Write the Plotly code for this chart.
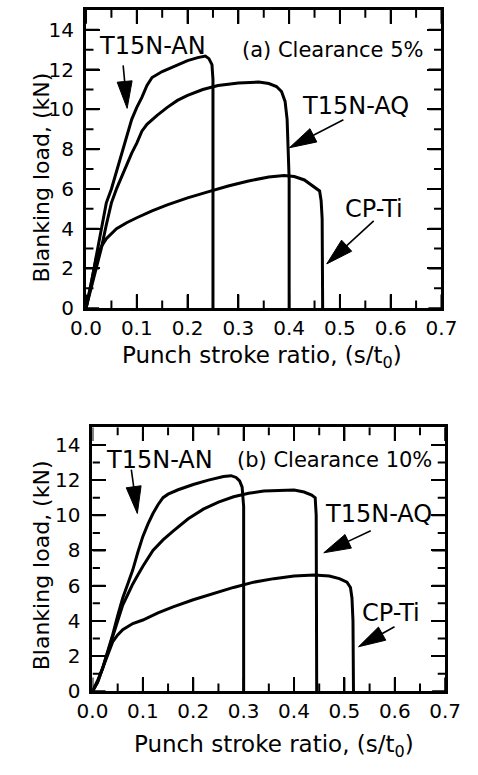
import math
import plotly.graph_objects as go

# ---------------- data ----------------
# Panel (a): Clearance 5%
a_an_x = [0, 0.01, 0.02, 0.03, 0.04, 0.05, 0.06, 0.07, 0.08, 0.09, 0.10, 0.11, 0.12, 0.13, 0.15, 0.18, 0.20, 0.22, 0.235, 0.242, 0.248, 0.250, 0.250]
a_an_y = [0, 1.2, 2.6, 4.0, 5.3, 6.0, 6.9, 7.8, 8.6, 9.5, 10.1, 10.6, 11.2, 11.6, 11.9, 12.25, 12.45, 12.6, 12.68, 12.55, 12.25, 11.5, 0]

a_aq_x = [0, 0.01, 0.02, 0.03, 0.04, 0.05, 0.06, 0.07, 0.08, 0.09, 0.10, 0.11, 0.12, 0.14, 0.16, 0.18, 0.20, 0.23, 0.26, 0.30, 0.34, 0.36, 0.375, 0.385, 0.392, 0.396, 0.398, 0.400, 0.400]
a_aq_y = [0, 1.0, 2.0, 3.0, 4.2, 5.3, 6.0, 6.6, 7.2, 7.8, 8.3, 8.9, 9.25, 9.7, 10.1, 10.45, 10.7, 11.0, 11.2, 11.32, 11.37, 11.3, 11.15, 10.9, 10.4, 9.5, 8.0, 6.5, 0]

a_cp_x = [0, 0.01, 0.02, 0.03, 0.04, 0.06, 0.08, 0.10, 0.13, 0.16, 0.20, 0.24, 0.28, 0.32, 0.36, 0.39, 0.41, 0.43, 0.45, 0.46, 0.463, 0.465, 0.466]
a_cp_y = [0, 1.3, 2.5, 3.1, 3.5, 4.0, 4.3, 4.55, 4.9, 5.2, 5.55, 5.85, 6.15, 6.4, 6.6, 6.68, 6.62, 6.45, 6.1, 5.9, 5.4, 4.5, 0]

# Panel (b): Clearance 10%
b_an_x = [0, 0.01, 0.02, 0.03, 0.04, 0.05, 0.06, 0.07, 0.08, 0.09, 0.10, 0.11, 0.12, 0.13, 0.14, 0.15, 0.17, 0.20, 0.23, 0.26, 0.275, 0.285, 0.292, 0.297, 0.300, 0.300]
b_an_y = [0, 0.5, 1.3, 2.2, 3.2, 4.3, 5.3, 6.1, 6.9, 7.9, 8.8, 9.5, 10.1, 10.6, 11.0, 11.2, 11.45, 11.75, 12.0, 12.2, 12.25, 12.15, 11.95, 11.6, 10.5, 0]

b_aq_x = [0, 0.01, 0.02, 0.03, 0.04, 0.05, 0.06, 0.07, 0.08, 0.09, 0.10, 0.12, 0.14, 0.16, 0.19, 0.22, 0.25, 0.28, 0.31, 0.34, 0.37, 0.40, 0.42, 0.435, 0.442, 0.444, 0.445]
b_aq_y = [0, 0.5, 1.3, 2.2, 3.2, 4.1, 4.9, 5.5, 6.1, 6.6, 7.1, 8.0, 8.6, 9.1, 9.8, 10.35, 10.75, 11.05, 11.25, 11.38, 11.42, 11.43, 11.32, 11.15, 11.0, 10.0, 0]

b_cp_x = [0, 0.01, 0.02, 0.03, 0.04, 0.05, 0.06, 0.08, 0.10, 0.13, 0.16, 0.20, 0.24, 0.28, 0.32, 0.36, 0.40, 0.44, 0.47, 0.49, 0.505, 0.512, 0.515, 0.517, 0.518]
b_cp_y = [0, 0.6, 1.3, 2.1, 2.8, 3.2, 3.5, 3.85, 4.05, 4.45, 4.8, 5.2, 5.55, 5.9, 6.2, 6.4, 6.55, 6.6, 6.55, 6.4, 6.2, 5.9, 5.3, 4.0, 0]

x_ticks = [0.0, 0.1, 0.2, 0.3, 0.4, 0.5, 0.6, 0.7]
x_minor_ticks = [0.05, 0.15, 0.25, 0.35, 0.45, 0.55, 0.65]
y_ticks = [0, 2, 4, 6, 8, 10, 12, 14]
y_minor_ticks = [1, 3, 5, 7, 9, 11, 13]
X_RANGE = [0, 0.7]
Y_RANGE = [0, 15]

x_title = "Punch stroke ratio, (s/t<sub>0</sub>)"
y_title = "Blanking load, (kN)"

FONT = "DejaVu Sans"
W, H = 478, 775
DOM_A = ([0.157, 0.954], [0.596, 0.987])
DOM_B = ([0.1715, 0.9623], [0.094, 0.44])

fig = go.Figure()

series = [
    (a_an_x, a_an_y, "x", "y"), (a_aq_x, a_aq_y, "x", "y"), (a_cp_x, a_cp_y, "x", "y"),
    (b_an_x, b_an_y, "x2", "y2"), (b_aq_x, b_aq_y, "x2", "y2"), (b_cp_x, b_cp_y, "x2", "y2"),
]
for xs, ys, xa, ya in series:
    fig.add_trace(go.Scatter(x=xs, y=ys, xaxis=xa, yaxis=ya, mode="lines",
                             line=dict(color="black", width=3), showlegend=False,
                             hoverinfo="skip"))

# tick marks on all four sides as a line trace in each panel's own axes
def tick_trace(dom, xa, ya, major_len=14, minor_len=8):
    xpx = (dom[0][1] - dom[0][0]) * W / (X_RANGE[1] - X_RANGE[0])   # px per x unit
    ypx = (dom[1][1] - dom[1][0]) * H / (Y_RANGE[1] - Y_RANGE[0])   # px per y unit
    tx, ty = [], []
    for vals, ln in ((x_ticks, major_len), (x_minor_ticks, minor_len)):
        d = ln / ypx
        for v in vals:
            tx += [v, v, None, v, v, None]
            ty += [Y_RANGE[0], Y_RANGE[0] + d, None, Y_RANGE[1], Y_RANGE[1] - d, None]
    for vals, ln in ((y_ticks, major_len), (y_minor_ticks, minor_len)):
        d = ln / xpx
        for v in vals:
            tx += [X_RANGE[0], X_RANGE[0] + d, None, X_RANGE[1], X_RANGE[1] - d, None]
            ty += [v, v, None, v, v, None]
    fig.add_trace(go.Scatter(x=tx, y=ty, xaxis=xa, yaxis=ya, mode="lines",
                             line=dict(color="black", width=2), showlegend=False,
                             hoverinfo="skip", cliponaxis=False))

tick_trace(DOM_A, "x", "y")
tick_trace(DOM_B, "x2", "y2")

tfont = dict(size=20, color="black", family=FONT)

def xaxis(domain, anchor):
    return dict(domain=domain, anchor=anchor, range=X_RANGE, tickmode="array",
                tickvals=x_ticks, tickformat=".1f", ticks="inside", ticklen=14,
                tickwidth=2, tickcolor="black", showline=True, linewidth=3,
                linecolor="black", mirror="allticks", showgrid=False, zeroline=False,
                tickfont=tfont)

def yaxis(domain, anchor):
    return dict(domain=domain, anchor=anchor, range=Y_RANGE, tickmode="array",
                tickvals=y_ticks, ticks="inside", ticklen=14, tickwidth=2,
                tickcolor="black", showline=True, linewidth=3, linecolor="black",
                mirror="allticks", showgrid=False, zeroline=False,
                ticklabelstandoff=5, tickfont=tfont)

fig.update_layout(
    width=W, height=H,
    margin=dict(l=0, r=0, t=0, b=0),
    paper_bgcolor="white", plot_bgcolor="white",
    xaxis=xaxis(DOM_A[0], "y"),
    yaxis=yaxis(DOM_A[1], "x"),
    xaxis2=xaxis(DOM_B[0], "y2"),
    yaxis2=yaxis(DOM_B[1], "x2"),
)

def text(t, x, y, xr, yr, size=24, angle=0):
    fig.add_annotation(text=t, x=x, y=y, xref=xr, yref=yr, showarrow=False,
                       textangle=angle,
                       font=dict(size=size, color="black", family=FONT),
                       xanchor="center", yanchor="middle")

def arrow(x, y, ax, ay, xr, yr, head_len=27, head_w=15):
    # tail offset (ax, ay) in screen pixels (y down); shape pixel coords have y up
    tx, ty = ax, -ay
    n = math.hypot(tx, ty)
    dx, dy = tx / n, ty / n
    px, py = -dy, dx
    bx, by = dx * head_len, dy * head_len
    hw = head_w / 2
    common = dict(xref=xr, yref=yr, xsizemode="pixel", ysizemode="pixel",
                  xanchor=x, yanchor=y)
    fig.add_shape(type="line", x0=bx * 0.8, y0=by * 0.8, x1=tx, y1=ty,
                  line=dict(color="black", width=1.6), **common)
    path = (f"M0,0 L{bx + px * hw:.2f},{by + py * hw:.2f} "
            f"L{bx - px * hw:.2f},{by - py * hw:.2f} Z")
    fig.add_shape(type="path", path=path, fillcolor="black",
                  line=dict(color="black", width=1), **common)

# axis titles (placed as paper annotations)
text(y_title, 0.0565, 0.7677, "paper", "paper", size=22, angle=-90)
text(x_title, 0.5523, 0.5316, "paper", "paper", size=23)
text(y_title, 0.0565, 0.2594, "paper", "paper", size=22, angle=-90)
text(x_title, 0.5774, 0.0219, "paper", "paper", size=23)

# Panel (a)
text("T15N-AN", 0.130, 13.17, "x", "y")
text("(a) Clearance 5%", 0.485, 13.0, "x", "y", size=21)
text("T15N-AQ", 0.531, 10.15, "x", "y")
text("CP-Ti", 0.568, 5.0, "x", "y")
arrow(0.081, 10.05, -4, -43, "x", "y")
arrow(0.4005, 8.07, 54, -28, "x", "y")
arrow(0.474, 2.23, 47, -43, "x", "y")

# Panel (b)
text("T15N-AN", 0.133, 13.15, "x2", "y2")
text("(b) Clearance 10%", 0.48, 13.15, "x2", "y2", size=21)
text("T15N-AQ", 0.567, 10.06, "x2", "y2")
text("CP-Ti", 0.593, 4.44, "x2", "y2")
arrow(0.089, 10.1, -6, -44, "x2", "y2")
arrow(0.459, 7.87, 47, -22, "x2", "y2")
arrow(0.528, 2.53, 36, -20, "x2", "y2")

fig.write_html("out.html")
